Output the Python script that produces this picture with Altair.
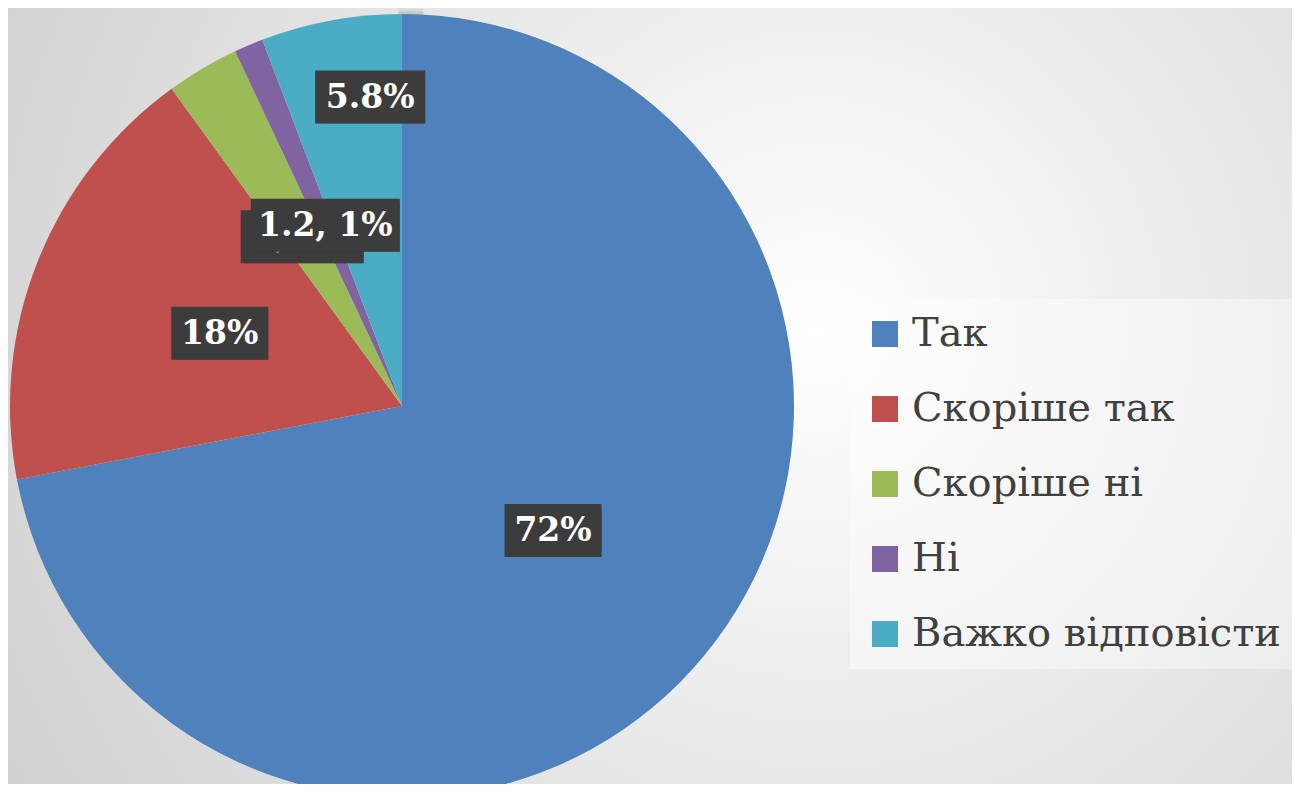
import altair as alt
import pandas as pd

categories = ["Так", "Скоріше так", "Скоріше ні", "Ні", "Важко відповісти"]
values = [72, 18, 3, 1.2, 5.8]
labels = ["72%", "18%", "3, 3%", "1.2, 1%", "5.8%"]
colors = ["#4F81BD", "#C0504D", "#9BBB59", "#8064A2", "#4BACC6"]

df = pd.DataFrame({"cat": categories, "value": values, "label": labels,
                   "idx": list(range(len(categories)))})

W, H = 1284, 776
CX, CY, R = 394, 398, 392

bg = alt.Chart(alt.Data(values=[{"a": 1}])).mark_rect(
    fill={"gradient": "radial", "x1": 0.63, "y1": 0.45, "r1": 0,
          "x2": 0.63, "y2": 0.45, "r2": 0.78,
          "stops": [{"offset": 0, "color": "#ffffff"},
                    {"offset": 1, "color": "#cdcdcd"}]}
).encode(x=alt.value(0), x2=alt.value(W), y=alt.value(0), y2=alt.value(H))

shadow1 = alt.Chart(alt.Data(values=[{"a": 1}])).mark_arc(
    outerRadius=R + 8, color="#000000", opacity=0.05
).encode(theta=alt.Theta("a:Q"), x=alt.value(CX - 4), y=alt.value(CY + 2))
shadow2 = alt.Chart(alt.Data(values=[{"a": 1}])).mark_arc(
    outerRadius=R + 4, color="#000000", opacity=0.08
).encode(theta=alt.Theta("a:Q"), x=alt.value(CX - 3), y=alt.value(CY + 1))

pie = alt.Chart(df).mark_arc(outerRadius=R).encode(
    theta=alt.Theta("value:Q", stack=True),
    order=alt.Order("idx:Q"),
    color=alt.Color("cat:N", sort=categories,
                    scale=alt.Scale(domain=categories, range=colors),
                    legend=alt.Legend(orient="none", legendX=842, legendY=291,
                                      title=None, symbolType="square",
                                      symbolSize=676, symbolStrokeWidth=0,
                                      symbolOpacity=1,
                                      labelFont="DejaVu Serif", labelFontSize=40,
                                      labelColor="#404040", labelOffset=7,
                                      labelLimit=600,
                                      rowPadding=35, padding=15,
                                      fillColor="rgba(255,255,255,0.4)")),
    x=alt.value(CX), y=alt.value(CY),
)

base = alt.Chart(df).transform_joinaggregate(
    total="sum(value)"
).transform_window(
    cum="sum(value)", sort=[alt.SortField("idx")], frame=[None, 0]
).transform_calculate(
    mid="(datum.cum - datum.value / 2) / datum.total * 2 * PI",
    r=f"datum.cat == 'Важко відповісти' ? {R * 0.8} : {R * 0.5}",
    shift="datum.cat == 'Важко відповісти' ? 25 : 0",
).transform_calculate(
    px=f"{CX} + datum.r * sin(datum.mid) + datum.shift",
    py=f"{CY} - datum.r * cos(datum.mid)",
    w="13 * length(datum.label) + 58",
).transform_calculate(
    bx1="datum.px - datum.w / 2", bx2="datum.px + datum.w / 2",
    by1="datum.py - 27", by2="datum.py + 26",
)


def layers_for(flt):
    b = base.transform_filter(flt)
    enc_box = dict(x=alt.X("bx1:Q", scale=None, axis=None), x2="bx2:Q",
                   y=alt.Y("by1:Q", scale=None, axis=None), y2="by2:Q")
    s1 = b.mark_rect(color="#000000", opacity=0.15, xOffset=6, yOffset=6).encode(**enc_box)
    s2 = b.mark_rect(color="#000000", opacity=0.22, xOffset=3, yOffset=3).encode(**enc_box)
    box = b.mark_rect(color="#3c3c3c").encode(**enc_box)
    enc_t = dict(x=alt.X("px:Q", scale=None, axis=None),
                 y=alt.Y("py:Q", scale=None, axis=None), text="label:N")
    txt = b.mark_text(font="DejaVu Serif", fontWeight="bold", fontSize=33,
                      color="#ffffff", align="center",
                      baseline="middle").encode(**enc_t)
    return [s1, s2, box, txt]


groupA = layers_for("datum.cat != 'Ні'")
groupB = layers_for("datum.cat == 'Ні'")

chart = alt.layer(bg, shadow1, shadow2, pie, *groupA, *groupB).properties(
    width=W, height=H, padding=0,
    autosize=alt.AutoSizeParams(type="none"),
    background="#d6d6d6",
).configure_view(stroke=None)

chart.save("out.html", embed_options={"renderer": "svg", "actions": False})
